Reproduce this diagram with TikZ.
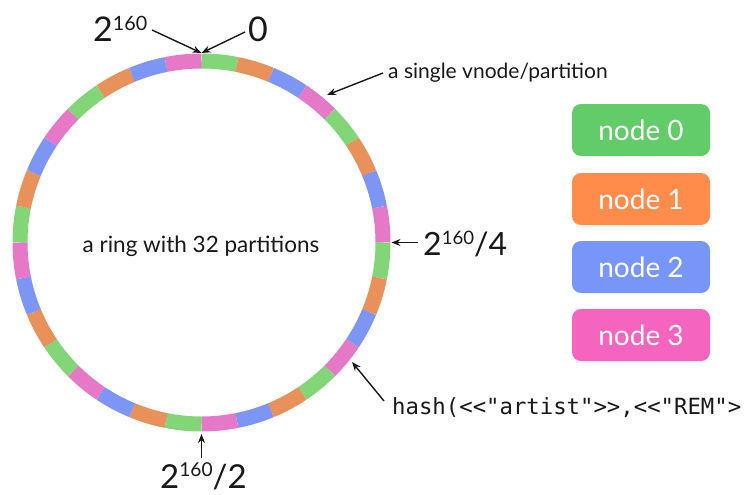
\documentclass[tikz,border=0pt]{standalone}
\usepackage{fontspec}
\setmainfont{Lato}
\newfontfamily\hashfont{DejaVu Sans Mono}
\usetikzlibrary{arrows.meta}
\definecolor{rgreen}{RGB}{130,214,120}
\definecolor{rorange}{RGB}{232,145,90}
\definecolor{rblue}{RGB}{125,150,245}
\definecolor{rpink}{RGB}{230,120,200}
\definecolor{bgreen}{RGB}{98,204,104}
\definecolor{borange}{RGB}{255,140,75}
\definecolor{bblue}{RGB}{120,150,250}
\definecolor{bpink}{RGB}{245,100,190}
\definecolor{ink}{RGB}{25,25,25}
\newcommand\sixty{\raisebox{0.34em}{\scalebox{0.58}{160}}}
\tikzset{
  ptr/.style={draw=ink, line width=1.4pt, -{Stealth[length=9pt,width=7pt]}},
  lbl/.style={text=ink, inner sep=0pt, anchor=base west},
  nodebox/.style={rounded corners=9pt, minimum width=138pt, minimum height=52pt,
    text=white, font=\fontsize{28}{28}\selectfont, inner sep=0pt},
}
\begin{document}
\begin{tikzpicture}[x=1pt,y=-1pt]
\useasboundingbox (0,0) rectangle (747,495);
% ring
\coordinate (c) at (201.5,242.5);
\foreach \i in {0,...,31}{
  \pgfmathtruncatemacro\k{mod(\i,4)}
  \ifcase\k \def\col{rgreen}\or \def\col{rorange}\or \def\col{rblue}\or \def\col{rpink}\fi
  \pgfmathsetmacro\a{-90+\i*11.25}
  \draw[line width=15pt, color=\col] (c) ++(\a:181.5) arc[start angle=\a, delta angle=11.25, radius=181.5];
}
% ring points
\coordinate (top) at (201.5,53);
\coordinate (vn) at (327,95);
\coordinate (quarter) at (391.5,242.5);
\coordinate (half) at (201.5,434);
\coordinate (hashpt) at (352,362);
% labels
\node[lbl, font=\fontsize{34}{34}\selectfont] (lmax) at (93,42) {2\sixty};
\node[lbl, font=\fontsize{34}{34}\selectfont] (lzero) at (248,42) {0};
\node[lbl, font=\fontsize{21}{21}\selectfont] (lvn) at (388,78) {a single vnode/partition};
\node[text=ink, inner sep=0pt, anchor=base, font=\fontsize{22.5}{22.5}\selectfont] (lring) at (201,252) {a ring with 32 partitions};
\node[lbl, font=\fontsize{32}{32}\selectfont] (lq) at (423,255) {2\sixty/4};
\node[lbl, font=\fontsize{33}{33}\selectfont] (lh) at (160,488) {2\sixty/2};
\node[lbl, font=\hashfont\fontsize{22.3}{22.3}\selectfont] (lhash) at (392,414) {hash(<<"artist">>,<<"REM">};
% arrows
\draw[ptr] (152,30) -- (top);
\draw[ptr] (245,32) -- (top);
\draw[ptr] (383,73) -- (vn);
\draw[ptr] (418,242.5) -- (quarter);
\draw[ptr] (201.5,458) -- (half);
\draw[ptr] (384,401) -- (hashpt);
% legend
\node[nodebox, fill=bgreen] (n0) at (641,130) {node 0};
\node[nodebox, fill=borange] (n1) at (641,199) {node 1};
\node[nodebox, fill=bblue] (n2) at (641,267) {node 2};
\node[nodebox, fill=bpink] (n3) at (641,335) {node 3};
\end{tikzpicture}
\end{document}
